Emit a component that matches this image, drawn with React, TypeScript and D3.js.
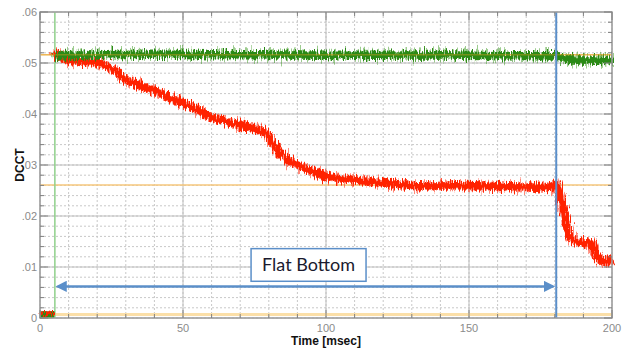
import React from "react";
import * as d3 from "d3";

const W = 622, H = 349;
const M = { left: 40, right: 10, top: 12, bottom: 31 };

const xTicks = [0, 50, 100, 150, 200];
const yTicks = [0, 0.01, 0.02, 0.03, 0.04, 0.05, 0.06];
const yTickLabels = ["0", ".01", ".02", ".03", ".04", ".05", ".06"];

// before beam injection (x < 5)
const preX = [0, 1.5, 3, 4.5, 5];
const preRedY = [0.0011, 0.0008, 0.0012, 0.0009, 0.0012];
const preGreenY = [0.0006, 0.0007, 0.0006, 0.0007, 0.0007];

const redX = [5.2, 6, 7, 10, 15, 20, 23, 26, 30, 35, 40, 45, 50, 55, 60, 65, 70, 75, 79, 81, 83, 86, 90, 95, 100, 105, 110, 115, 120, 125, 130, 140, 150, 160, 170, 178, 180.5, 182, 183.5, 185, 187, 190, 193, 194.5, 196, 198, 200];
const redY = [0.0522, 0.0516, 0.0512, 0.0505, 0.0503, 0.0502, 0.0495, 0.0485, 0.0467, 0.0455, 0.0445, 0.0433, 0.0422, 0.0408, 0.0393, 0.0385, 0.0378, 0.0372, 0.0364, 0.0345, 0.033, 0.0312, 0.03, 0.0288, 0.0278, 0.0273, 0.027, 0.0268, 0.0265, 0.0262, 0.026, 0.0259, 0.026, 0.0258, 0.0257, 0.0256, 0.0265, 0.024, 0.02, 0.016, 0.015, 0.0148, 0.0146, 0.012, 0.0112, 0.011, 0.0115];

const greenX = [5.2, 20, 40, 60, 80, 100, 120, 140, 160, 180, 183, 186, 190, 200];
const greenY = [0.0514, 0.0516, 0.0517, 0.0516, 0.0516, 0.0515, 0.0515, 0.0516, 0.0514, 0.0514, 0.051, 0.0506, 0.0506, 0.0505];

const orangeLevels = [0.0516, 0.0261, 0.0007];
const greenMarkerX = 5.2;
const blueMarkerX = 180.5;
const arrowRange = [5.5, 180];
const arrowY = 0.0062;
const boxRange = [73.8, 114];
const boxYRange = [0.0072, 0.0136];
const boxLabel = "Flat Bottom";

export default function App() {
  const x = d3.scaleLinear().domain([0, 200]).range([M.left, W - M.right]);
  const y = d3.scaleLinear().domain([0, 0.06]).range([H - M.bottom, M.top]);
  const x0 = x(0), x1 = x(200), y0 = y(0), y1 = y(0.06);

  const minorX = d3.range(0, 201, 10);
  const minorY = d3.range(0, 0.0601, 0.002);

  const mk = (xs: number[], ys: number[]) =>
    d3.line<number>().x((d) => x(d)).y((_, i) => y(ys[i]))(xs) as string;

  const redPath = mk(redX, redY);
  const greenPath = mk(greenX, greenY);
  const preRed = mk(preX, preRedY);
  const preGreen = mk(preX, preGreenY);

  const tickColor = "#8a8a8a";
  const font = "Liberation Sans, Arial, sans-serif";
  return (
    <svg width={W} height={H} style={{ position: "absolute", left: 0, top: 0, background: "#fff" }}>
      <defs>
        <filter id="jitR" filterUnits="userSpaceOnUse" x={0} y={0} width={W} height={H}>
          <feTurbulence type="fractalNoise" baseFrequency="1.1 0.08" numOctaves={2} seed={4} result="t" />
          <feDisplacementMap in="SourceGraphic" in2="t" scale={13} xChannelSelector="R" yChannelSelector="G" />
        </filter>
        <filter id="jitR2" filterUnits="userSpaceOnUse" x={0} y={0} width={W} height={H}>
          <feTurbulence type="fractalNoise" baseFrequency="0.7 0.05" numOctaves={2} seed={12} result="t" />
          <feDisplacementMap in="SourceGraphic" in2="t" scale={18} xChannelSelector="R" yChannelSelector="G" />
        </filter>
        <filter id="jitG" filterUnits="userSpaceOnUse" x={0} y={0} width={W} height={H}>
          <feTurbulence type="fractalNoise" baseFrequency="1.1 0.08" numOctaves={2} seed={9} result="t" />
          <feDisplacementMap in="SourceGraphic" in2="t" scale={14} xChannelSelector="R" yChannelSelector="G" />
        </filter>
        <filter id="jitG2" filterUnits="userSpaceOnUse" x={0} y={0} width={W} height={H}>
          <feTurbulence type="fractalNoise" baseFrequency="0.7 0.05" numOctaves={2} seed={21} result="t" />
          <feDisplacementMap in="SourceGraphic" in2="t" scale={22} xChannelSelector="R" yChannelSelector="G" />
        </filter>
        <marker id="ah" viewBox="0 0 10 10" refX={8} refY={5} markerWidth={4.5} markerHeight={4.5} orient="auto-start-reverse">
          <path d="M0,0 L10,5 L0,10 z" fill="#5b8fc9" />
        </marker>
      </defs>
      {/* minor grid */}
      {minorX.map((v) => (
        <line key={"gx" + v} x1={x(v)} x2={x(v)} y1={y1} y2={y0} stroke="#c8c8c8" strokeWidth={1} strokeDasharray="2,2" />
      ))}
      {minorY.map((v, i) => (
        <line key={"gy" + i} x1={x0} x2={x1} y1={y(v)} y2={y(v)} stroke="#c8c8c8" strokeWidth={1} strokeDasharray="2,2" />
      ))}
      {xTicks.map((v) => (
        <line key={"Mx" + v} x1={x(v)} x2={x(v)} y1={y1} y2={y0} stroke="#bdbdbd" strokeWidth={1} />
      ))}
      {yTicks.map((v) => (
        <line key={"My" + v} x1={x0} x2={x1} y1={y(v)} y2={y(v)} stroke="#bdbdbd" strokeWidth={1} />
      ))}
      {/* orange reference lines */}
      {orangeLevels.map((v, i) => (
        <line key={"o" + i} x1={x0} x2={x1} y1={y(v)} y2={y(v)} stroke={i === 2 ? "#fbdfa8" : "#f6c77c"} strokeWidth={i === 2 ? 3 : 1.5} />
      ))}
      {/* green marker */}
      <line x1={x(greenMarkerX)} x2={x(greenMarkerX)} y1={y1} y2={y0} stroke="#8fd08a" strokeWidth={1.5} />
      {/* series */}
      <g filter="url(#jitR2)" opacity={0.55}>
        <path d={redPath} fill="none" stroke="#ff2a10" strokeWidth={7} strokeLinejoin="round" />
      </g>
      <g filter="url(#jitR)">
        <path d={redPath} fill="none" stroke="#ff2200" strokeWidth={7.5} strokeLinejoin="round" />
      </g>
      <g filter="url(#jitG2)" opacity={0.5}>
        <path d={greenPath} fill="none" stroke="#3c9a20" strokeWidth={7} strokeLinejoin="round" />
      </g>
      <g filter="url(#jitG)">
        <path d={greenPath} fill="none" stroke="#2c8a12" strokeWidth={7.5} strokeLinejoin="round" />
      </g>
      <path d={preGreen} fill="none" stroke="#2c8a12" strokeWidth={7} />
      <g filter="url(#jitR)">
        <path d={preRed} fill="none" stroke="#ff2200" strokeWidth={3} />
      </g>
      <line x1={x0} x2={x1} y1={y(orangeLevels[0])} y2={y(orangeLevels[0])} stroke="#e0a020" strokeWidth={1} opacity={0.6} />
      {/* blue marker */}
      <line x1={x(blueMarkerX)} x2={x(blueMarkerX)} y1={y1} y2={y0} stroke="#5b8fc9" strokeWidth={2} />
      {/* arrow */}
      <line x1={x(arrowRange[0]) + 2} x2={x(arrowRange[1]) - 2} y1={y(arrowY)} y2={y(arrowY)} stroke="#5b8fc9" strokeWidth={2.5}
        markerStart="url(#ah)" markerEnd="url(#ah)" />
      {/* frame */}
      <rect x={x0} y={y1} width={x1 - x0} height={y0 - y1} fill="none" stroke="#a0a0a0" strokeWidth={1.5} />
      {/* ticks */}
      {minorY.map((v, i) => {
        const major = Math.abs(v * 100 - Math.round(v * 100)) < 1e-6;
        const len = major ? 8 : 4;
        return (
          <g key={"ty" + i}>
            <line x1={x0} x2={x0 + len} y1={y(v)} y2={y(v)} stroke="#808080" strokeWidth={1} />
            <line x1={x1} x2={x1 - len} y1={y(v)} y2={y(v)} stroke="#808080" strokeWidth={1} />
          </g>
        );
      })}
      {minorX.map((v) => {
        const major = v % 50 === 0;
        const len = major ? 8 : 4;
        return (
          <g key={"tx" + v}>
            <line x1={x(v)} x2={x(v)} y1={y0} y2={y0 - len} stroke="#808080" strokeWidth={1} />
            <line x1={x(v)} x2={x(v)} y1={y1} y2={y1 + len} stroke="#808080" strokeWidth={1} />
          </g>
        );
      })}
      {/* tick labels */}
      {yTicks.map((v, i) => (
        <text key={"ly" + i} x={x0 - 3} y={y(v)} dy="0.35em" textAnchor="end" fontFamily={font} fontSize={11} fill={tickColor}>
          {yTickLabels[i]}
        </text>
      ))}
      {xTicks.map((v) => (
        <text key={"lx" + v} x={x(v)} y={y0 + 10} dy="0.35em" textAnchor="middle" fontFamily={font} fontSize={11} fill={tickColor}>
          {v}
        </text>
      ))}
      <text x={(x0 + x1) / 2} y={341} dy="0.35em" textAnchor="middle" fontFamily={font} fontWeight="bold" fontSize={12} fill="#111">
        Time [msec]
      </text>
      <text transform={`translate(20,${(y0 + y1) / 2}) rotate(-90)`} textAnchor="middle" dy="0.35em" fontFamily={font} fontWeight="bold" fontSize={12} fill="#111">
        DCCT
      </text>
      {/* annotation box */}
      <rect x={x(boxRange[0])} y={y(boxYRange[1])} width={x(boxRange[1]) - x(boxRange[0])} height={y(boxYRange[0]) - y(boxYRange[1])}
        fill="#fff" stroke="#5b8fc9" strokeWidth={1.5} />
      <text x={(x(boxRange[0]) + x(boxRange[1])) / 2} y={(y(boxYRange[0]) + y(boxYRange[1])) / 2} dy="0.35em" textAnchor="middle"
        fontFamily="Lato, Carlito, sans-serif" fontSize={18} fill="#1a1a2e">
        {boxLabel}
      </text>
    </svg>
  );
}
